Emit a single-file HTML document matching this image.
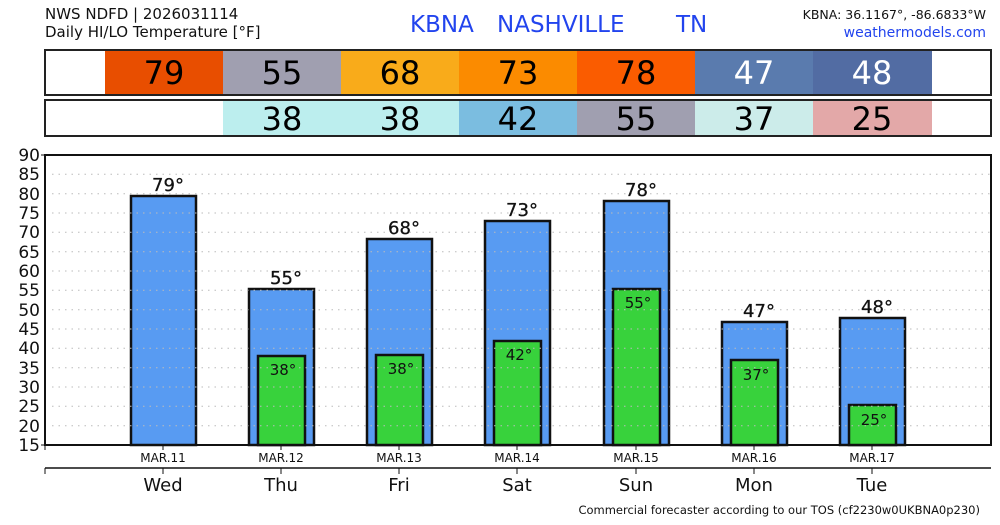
<!DOCTYPE html>
<html><head><meta charset="utf-8"><style>
body{margin:0;background:#fff;}
svg text{font-family:"DejaVu Sans","Liberation Sans",sans-serif;}
</style></head><body>
<svg width="1000" height="520" xmlns="http://www.w3.org/2000/svg">
<text x="45" y="19" font-size="15" fill="#111">NWS NDFD | 2026031114</text>
<text x="45" y="37" font-size="15" fill="#111">Daily HI/LO Temperature [°F]</text>
<text x="410" y="32" font-size="23" fill="#2244ee">KBNA</text>
<text x="497" y="32" font-size="23" fill="#2244ee">NASHVILLE</text>
<text x="676" y="32" font-size="23" fill="#2244ee">TN</text>
<text x="986" y="19" font-size="12.5" fill="#111" text-anchor="end">KBNA: 36.1167°, -86.6833°W</text>
<text x="986" y="37" font-size="14" fill="#2244ee" text-anchor="end">weathermodels.com</text>
<g font-size="32" text-anchor="middle">
<rect x="45" y="50" width="946" height="45" fill="#fff"/>
<rect x="105" y="50" width="118" height="45" fill="#e84e00"/>
<rect x="223" y="50" width="118" height="45" fill="#a09fb0"/>
<rect x="341" y="50" width="118" height="45" fill="#f9ab1a"/>
<rect x="459" y="50" width="118" height="45" fill="#fb8b00"/>
<rect x="577" y="50" width="118" height="45" fill="#fa5c00"/>
<rect x="695" y="50" width="118" height="45" fill="#5a7bae"/>
<rect x="813" y="50" width="119" height="45" fill="#526ca3"/>
<rect x="45" y="50" width="946" height="45" fill="none" stroke="#222" stroke-width="2"/>
<text x="164" y="84">79</text><text x="282" y="84">55</text><text x="400" y="84">68</text><text x="518" y="84">73</text><text x="636" y="84">78</text><text x="754" y="84" fill="#fff">47</text><text x="872" y="84" fill="#fff">48</text>
<rect x="223" y="100" width="118" height="36" fill="#bceeee"/>
<rect x="341" y="100" width="118" height="36" fill="#bceeee"/>
<rect x="459" y="100" width="118" height="36" fill="#7bbde0"/>
<rect x="577" y="100" width="118" height="36" fill="#a09fb0"/>
<rect x="695" y="100" width="118" height="36" fill="#ccecea"/>
<rect x="813" y="100" width="119" height="36" fill="#e3a8a8"/>
<rect x="45" y="100" width="946" height="36" fill="none" stroke="#222" stroke-width="2"/>
<text x="282" y="130">38</text><text x="400" y="130">38</text><text x="518" y="130">42</text><text x="636" y="130">55</text><text x="754" y="130">37</text><text x="872" y="130">25</text>
</g>
<g id="bars" stroke="#111" stroke-width="2.5">
<rect x="131" y="196" width="65" height="249" fill="#589bf2"/>
<rect x="249" y="289" width="65" height="156" fill="#589bf2"/>
<rect x="367" y="239" width="65" height="206" fill="#589bf2"/>
<rect x="485" y="221" width="65" height="224" fill="#589bf2"/>
<rect x="604" y="201" width="65" height="244" fill="#589bf2"/>
<rect x="722" y="322" width="65" height="123" fill="#589bf2"/>
<rect x="840" y="318" width="65" height="127" fill="#589bf2"/>
<rect x="258" y="356" width="47" height="89" fill="#38d23c"/>
<rect x="376" y="355" width="47" height="90" fill="#38d23c"/>
<rect x="494" y="341" width="47" height="104" fill="#38d23c"/>
<rect x="613" y="289" width="47" height="156" fill="#38d23c"/>
<rect x="731" y="360" width="47" height="85" fill="#38d23c"/>
<rect x="849" y="405" width="47" height="40" fill="#38d23c"/>
</g>
<g stroke="#bbb" stroke-width="1" stroke-dasharray="1.5,5">
<line x1="52" x2="990" y1="174.3" y2="174.3"/><line x1="52" x2="990" y1="193.7" y2="193.7"/>
<line x1="52" x2="990" y1="213" y2="213"/><line x1="52" x2="990" y1="232.3" y2="232.3"/>
<line x1="52" x2="990" y1="251.7" y2="251.7"/><line x1="52" x2="990" y1="271" y2="271"/>
<line x1="52" x2="990" y1="290.3" y2="290.3"/><line x1="52" x2="990" y1="309.7" y2="309.7"/>
<line x1="52" x2="990" y1="329" y2="329"/><line x1="52" x2="990" y1="348.3" y2="348.3"/>
<line x1="52" x2="990" y1="367.7" y2="367.7"/><line x1="52" x2="990" y1="387" y2="387"/>
<line x1="52" x2="990" y1="406.3" y2="406.3"/><line x1="52" x2="990" y1="425.7" y2="425.7"/>
</g>
<rect x="45" y="155" width="946" height="290" fill="none" stroke="#111" stroke-width="2"/>
<g font-size="17" text-anchor="end" fill="#111">
<text x="40" y="161">90</text><text x="40" y="180">85</text><text x="40" y="200">80</text><text x="40" y="219">75</text><text x="40" y="238">70</text><text x="40" y="258">65</text><text x="40" y="277">60</text><text x="40" y="296">55</text><text x="40" y="316">50</text><text x="40" y="335">45</text><text x="40" y="354">40</text><text x="40" y="374">35</text><text x="40" y="393">30</text><text x="40" y="412">25</text><text x="40" y="432">20</text><text x="40" y="451">15</text>
</g>
<g stroke="#111" stroke-width="1">
<line x1="41" x2="45" y1="155" y2="155"/><line x1="41" x2="45" y1="445" y2="445"/>
<line x1="45" x2="45" y1="445" y2="450"/>
<line x1="163" x2="163" y1="445" y2="450"/><line x1="281" x2="281" y1="445" y2="450"/><line x1="399" x2="399" y1="445" y2="450"/><line x1="517" x2="517" y1="445" y2="450"/><line x1="636" x2="636" y1="445" y2="450"/><line x1="754" x2="754" y1="445" y2="450"/><line x1="872" x2="872" y1="445" y2="450"/>
<line x1="45" x2="991" y1="468" y2="468" stroke-width="1.5"/>
<line x1="45" x2="45" y1="468" y2="474"/>
<line x1="163" x2="163" y1="468" y2="474"/><line x1="281" x2="281" y1="468" y2="474"/><line x1="399" x2="399" y1="468" y2="474"/><line x1="517" x2="517" y1="468" y2="474"/><line x1="636" x2="636" y1="468" y2="474"/><line x1="754" x2="754" y1="468" y2="474"/><line x1="872" x2="872" y1="468" y2="474"/>
</g>
<g font-size="12" text-anchor="middle" fill="#111">
<text x="163" y="462">MAR.11</text><text x="281" y="462">MAR.12</text><text x="399" y="462">MAR.13</text><text x="517" y="462">MAR.14</text><text x="636" y="462">MAR.15</text><text x="754" y="462">MAR.16</text><text x="872" y="462">MAR.17</text>
</g>
<g font-size="18" text-anchor="middle" fill="#111">
<text x="163" y="491">Wed</text><text x="281" y="491">Thu</text><text x="399" y="491">Fri</text><text x="517" y="491">Sat</text><text x="636" y="491">Sun</text><text x="754" y="491">Mon</text><text x="872" y="491">Tue</text>
</g>
<g font-size="18" text-anchor="middle" fill="#111" font-weight="500" stroke="#111" stroke-width="0.3">
<text x="168" y="191">79°</text><text x="286" y="284">55°</text><text x="404" y="234">68°</text><text x="522" y="216">73°</text><text x="641" y="196">78°</text><text x="759" y="317">47°</text><text x="877" y="313">48°</text>
</g>
<g font-size="15" text-anchor="middle" fill="#111">
<text x="283" y="375">38°</text><text x="401" y="374">38°</text><text x="519" y="360">42°</text><text x="638" y="308">55°</text><text x="756" y="380">37°</text><text x="874" y="425">25°</text>
</g>
<text x="980" y="514" font-size="11.5" text-anchor="end" fill="#111">Commercial forecaster according to our TOS (cf2230w0UKBNA0p230)</text>
</svg>
</body></html>
